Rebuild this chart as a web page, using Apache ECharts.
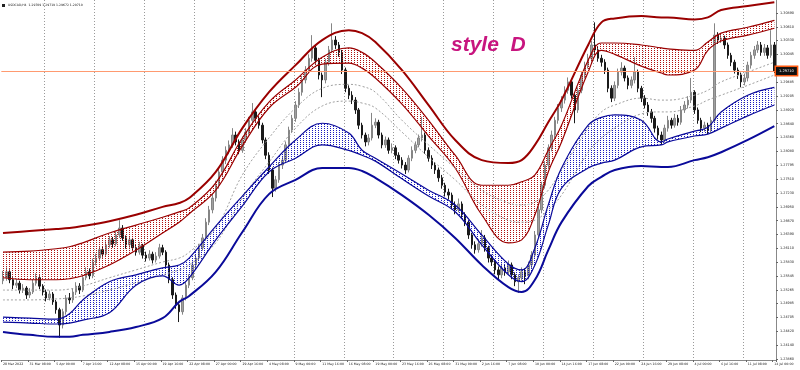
<!DOCTYPE html>
<html><head><meta charset="utf-8">
<script src="https://cdn.jsdelivr.net/npm/echarts@6.0.0/dist/echarts.min.js"></script>
<style>html,body{margin:0;padding:0;background:#fff}#c{width:800px;height:370px}</style>
</head><body><div id="c"></div>
<script>
// ---- candles (each = 2 H4 bars) ----
const opens = [1.2545,1.2551,1.2563,1.2547,1.2536,1.2540,1.2526,1.2530,1.2516,1.2522,
1.2540,1.2551,1.2534,1.2522,1.2510,1.2518,1.2502,1.2486,1.2455,1.2482,
1.2510,1.2506,1.2522,1.2534,1.2526,1.2551,1.2563,1.2555,1.2583,1.2591,
1.2608,1.2599,1.2618,1.2628,1.2620,1.2638,1.2652,1.2632,1.2618,1.2628,
1.2612,1.2603,1.2616,1.2597,1.2591,1.2599,1.2587,1.2595,1.2612,1.2603,
1.2577,1.2547,1.2516,1.2496,1.2482,1.2510,1.2536,1.2551,1.2577,1.2591,
1.2612,1.2632,1.2664,1.2689,1.2713,1.2739,1.2766,1.2790,1.2810,1.2821,
1.2841,1.2827,1.2810,1.2831,1.2847,1.2871,1.2888,1.2875,1.2861,1.2831,
1.2800,1.2770,1.2733,1.2750,1.2780,1.2790,1.2821,1.2851,1.2875,1.2902,
1.2928,1.2953,1.2973,1.2997,1.3018,1.2993,1.2963,1.2953,1.2989,1.3014,
1.3034,1.3024,1.3009,1.2973,1.2936,1.2922,1.2912,1.2892,1.2861,1.2841,
1.2827,1.2835,1.2861,1.2867,1.2841,1.2821,1.2831,1.2810,1.2815,1.2800,
1.2790,1.2780,1.2770,1.2794,1.2810,1.2821,1.2835,1.2841,1.2810,1.2794,
1.2780,1.2770,1.2754,1.2739,1.2725,1.2719,1.2699,1.2689,1.2701,1.2679,
1.2664,1.2638,1.2618,1.2608,1.2620,1.2632,1.2612,1.2591,1.2583,1.2567,
1.2557,1.2571,1.2563,1.2577,1.2557,1.2543,1.2551,1.2563,1.2555,1.2577,
1.2597,1.2638,1.2689,1.2739,1.2780,1.2815,1.2841,1.2871,1.2896,1.2912,
1.2932,1.2949,1.2922,1.2892,1.2932,1.2963,1.2983,1.2997,1.3024,1.3014,
1.2997,1.2989,1.2973,1.2936,1.2916,1.2942,1.2969,1.2977,1.2957,1.2942,
1.2953,1.2969,1.2936,1.2916,1.2902,1.2888,1.2875,1.2855,1.2841,1.2831,
1.2855,1.2871,1.2861,1.2875,1.2867,1.2892,1.2902,1.2912,1.2928,1.2892,
1.2871,1.2855,1.2861,1.2851,1.2871,1.3044,1.3034,1.3038,1.3024,1.3003,
1.2989,1.2973,1.2963,1.2949,1.2957,1.2983,1.3003,1.3014,1.3024,1.3009,
1.3018,1.3003,1.3024];
const closes = [1.2551,1.2563,1.2547,1.2536,1.2540,1.2526,1.2530,1.2516,1.2522,1.2540,
1.2551,1.2534,1.2522,1.2510,1.2518,1.2502,1.2486,1.2455,1.2482,1.2510,
1.2506,1.2522,1.2534,1.2526,1.2551,1.2563,1.2555,1.2583,1.2591,1.2608,
1.2599,1.2618,1.2628,1.2620,1.2638,1.2652,1.2632,1.2618,1.2628,1.2612,
1.2603,1.2616,1.2597,1.2591,1.2599,1.2587,1.2595,1.2612,1.2603,1.2577,
1.2547,1.2516,1.2496,1.2482,1.2510,1.2536,1.2551,1.2577,1.2591,1.2612,
1.2632,1.2664,1.2689,1.2713,1.2739,1.2766,1.2790,1.2810,1.2821,1.2841,
1.2827,1.2810,1.2831,1.2847,1.2871,1.2888,1.2875,1.2861,1.2831,1.2800,
1.2770,1.2733,1.2750,1.2780,1.2790,1.2821,1.2851,1.2875,1.2902,1.2928,
1.2953,1.2973,1.2997,1.3018,1.2993,1.2963,1.2953,1.2989,1.3014,1.3034,
1.3024,1.3009,1.2973,1.2936,1.2922,1.2912,1.2892,1.2861,1.2841,1.2827,
1.2835,1.2861,1.2867,1.2841,1.2821,1.2831,1.2810,1.2815,1.2800,1.2790,
1.2780,1.2770,1.2794,1.2810,1.2821,1.2835,1.2841,1.2810,1.2794,1.2780,
1.2770,1.2754,1.2739,1.2725,1.2719,1.2699,1.2689,1.2701,1.2679,1.2664,
1.2638,1.2618,1.2608,1.2620,1.2632,1.2612,1.2591,1.2583,1.2567,1.2557,
1.2571,1.2563,1.2577,1.2557,1.2543,1.2551,1.2563,1.2555,1.2577,1.2597,
1.2638,1.2689,1.2739,1.2780,1.2815,1.2841,1.2871,1.2896,1.2912,1.2932,
1.2949,1.2922,1.2892,1.2932,1.2963,1.2983,1.2997,1.3024,1.3014,1.2997,
1.2989,1.2973,1.2936,1.2916,1.2942,1.2969,1.2977,1.2957,1.2942,1.2953,
1.2969,1.2936,1.2916,1.2902,1.2888,1.2875,1.2855,1.2841,1.2831,1.2855,
1.2871,1.2861,1.2875,1.2867,1.2892,1.2902,1.2912,1.2928,1.2892,1.2871,
1.2855,1.2861,1.2851,1.2871,1.3044,1.3034,1.3038,1.3024,1.3003,1.2989,
1.2973,1.2963,1.2949,1.2957,1.2983,1.3003,1.3014,1.3024,1.3009,1.3018,
1.3003,1.3024,1.2971];
const highs = [1.2565,1.2572,1.2568,1.2552,1.2549,1.2545,1.2538,1.2534,1.2530,1.2548,
1.2560,1.2556,1.2538,1.2527,1.2525,1.2522,1.2506,1.2490,1.2488,1.2516,
1.2520,1.2530,1.2542,1.2540,1.2558,1.2572,1.2570,1.2590,1.2600,1.2615,
1.2614,1.2625,1.2636,1.2634,1.2645,1.2668,1.2658,1.2637,1.2635,1.2632,
1.2618,1.2624,1.2620,1.2604,1.2607,1.2604,1.2603,1.2620,1.2618,1.2607,
1.2582,1.2552,1.2521,1.2500,1.2516,1.2542,1.2558,1.2584,1.2598,1.2620,
1.2640,1.2672,1.2697,1.2722,1.2748,1.2774,1.2798,1.2818,1.2830,1.2855,
1.2848,1.2832,1.2838,1.2855,1.2878,1.2906,1.2895,1.2880,1.2866,1.2836,
1.2806,1.2775,1.2758,1.2786,1.2798,1.2828,1.2858,1.2882,1.2910,1.2936,
1.2961,1.2981,1.3005,1.3044,1.3024,1.2998,1.2968,1.2996,1.3022,1.3068,
1.3042,1.3030,1.3014,1.2978,1.2942,1.2930,1.2918,1.2896,1.2866,1.2846,
1.2843,1.2886,1.2875,1.2872,1.2846,1.2838,1.2836,1.2824,1.2820,1.2806,
1.2796,1.2786,1.2800,1.2818,1.2828,1.2842,1.2878,1.2846,1.2816,1.2800,
1.2786,1.2775,1.2760,1.2744,1.2732,1.2724,1.2706,1.2712,1.2706,1.2684,
1.2668,1.2642,1.2625,1.2630,1.2648,1.2638,1.2616,1.2598,1.2588,1.2574,
1.2580,1.2578,1.2586,1.2582,1.2562,1.2558,1.2572,1.2570,1.2584,1.2605,
1.2646,1.2696,1.2746,1.2788,1.2822,1.2850,1.2878,1.2904,1.2920,1.2940,
1.2958,1.2954,1.2926,1.2938,1.2970,1.2990,1.3006,1.3032,1.3070,1.3020,
1.3004,1.2995,1.2978,1.2942,1.2950,1.2976,1.2989,1.2982,1.2962,1.2960,
1.2999,1.2974,1.2941,1.2922,1.2908,1.2894,1.2880,1.2860,1.2848,1.2862,
1.2880,1.2876,1.2884,1.2882,1.2900,1.2910,1.2920,1.2957,1.2932,1.2897,
1.2876,1.2868,1.2866,1.2878,1.3068,1.3050,1.3046,1.3043,1.3029,1.3008,
1.2994,1.2978,1.2968,1.2965,1.2990,1.3010,1.3022,1.3032,1.3030,1.3026,
1.3024,1.3054,1.3030];
const lows = [1.2538,1.2545,1.2540,1.2528,1.2530,1.2519,1.2520,1.2508,1.2510,1.2518,
1.2535,1.2528,1.2515,1.2503,1.2505,1.2496,1.2478,1.2429,1.2448,1.2476,
1.2498,1.2500,1.2516,1.2518,1.2522,1.2546,1.2548,1.2550,1.2576,1.2586,
1.2592,1.2595,1.2612,1.2612,1.2615,1.2632,1.2626,1.2610,1.2612,1.2605,
1.2596,1.2598,1.2590,1.2584,1.2586,1.2580,1.2582,1.2590,1.2597,1.2570,
1.2540,1.2508,1.2488,1.2461,1.2476,1.2505,1.2530,1.2546,1.2570,1.2586,
1.2606,1.2626,1.2658,1.2682,1.2706,1.2732,1.2758,1.2782,1.2802,1.2815,
1.2820,1.2802,1.2805,1.2825,1.2842,1.2865,1.2868,1.2854,1.2824,1.2792,
1.2762,1.2715,1.2726,1.2744,1.2772,1.2784,1.2815,1.2845,1.2868,1.2896,
1.2921,1.2946,1.2966,1.2990,1.2986,1.2954,1.2918,1.2946,1.2982,1.3008,
1.3016,1.3000,1.2965,1.2928,1.2914,1.2904,1.2884,1.2853,1.2834,1.2818,
1.2820,1.2830,1.2855,1.2834,1.2814,1.2815,1.2803,1.2804,1.2792,1.2783,
1.2773,1.2762,1.2765,1.2788,1.2804,1.2816,1.2828,1.2803,1.2787,1.2772,
1.2762,1.2746,1.2732,1.2716,1.2710,1.2690,1.2680,1.2684,1.2672,1.2656,
1.2630,1.2610,1.2600,1.2602,1.2614,1.2604,1.2582,1.2575,1.2558,1.2548,
1.2550,1.2555,1.2558,1.2548,1.2534,1.2520,1.2545,1.2538,1.2548,1.2570,
1.2592,1.2632,1.2682,1.2732,1.2772,1.2808,1.2835,1.2864,1.2888,1.2905,
1.2925,1.2915,1.2865,1.2886,1.2926,1.2956,1.2976,1.2990,1.3006,1.2990,
1.2980,1.2965,1.2928,1.2908,1.2910,1.2936,1.2962,1.2950,1.2934,1.2936,
1.2946,1.2928,1.2908,1.2895,1.2880,1.2866,1.2846,1.2832,1.2821,1.2826,
1.2848,1.2854,1.2856,1.2860,1.2862,1.2886,1.2895,1.2906,1.2884,1.2864,
1.2847,1.2848,1.2843,1.2846,1.2866,1.3026,1.3028,1.3016,1.2996,1.2981,
1.2966,1.2955,1.2938,1.2942,1.2950,1.2976,1.2996,1.3008,1.3002,1.3002,
1.2996,1.2998,1.2967];

// ---- envelope lines, read at these candle indices ----
const bandIdx = [0,8,16,20,24,32,40,48,53,56,64,72,80,88,96,104,108,112,120,128,136,144,152,156,160,164,168,176,180,184,192,198,200,208,212,216,224,232];
const outerRed = [1.2642,1.2646,1.2650,1.2652,1.2656,1.2666,1.2679,1.2695,1.2703,1.2713,1.2766,1.2855,1.2928,1.2983,1.3034,1.3054,1.3048,1.3030,1.2973,1.2902,1.2831,1.2790,1.2784,1.2790,1.2821,1.2867,1.2912,1.3024,1.3070,1.3078,1.3083,1.3080,1.3080,1.3076,1.3080,1.3095,1.3103,1.3111];
const redUpper = [1.2603,1.2605,1.2610,1.2614,1.2622,1.2642,1.2658,1.2674,1.2685,1.2693,1.2744,1.2835,1.2908,1.2953,1.2999,1.3018,1.3009,1.2989,1.2936,1.2871,1.2800,1.2739,1.2739,1.2746,1.2760,1.2810,1.2861,1.2993,1.3028,1.3028,1.3024,1.3018,1.3016,1.3013,1.3030,1.3048,1.3060,1.3074];
const redLower = [1.2551,1.2547,1.2547,1.2549,1.2555,1.2577,1.2607,1.2642,1.2664,1.2681,1.2729,1.2819,1.2896,1.2938,1.2985,1.2987,1.2977,1.2957,1.2904,1.2839,1.2774,1.2679,1.2622,1.2628,1.2679,1.2766,1.2827,1.2969,1.3013,1.3005,1.2981,1.2967,1.2963,1.2973,1.3013,1.3032,1.3044,1.3058];
const midUpper = [1.2526,1.2526,1.2526,1.2528,1.2534,1.2551,1.2567,1.2583,1.2591,1.2603,1.2652,1.2760,1.2835,1.2896,1.2936,1.2944,1.2940,1.2928,1.2871,1.2821,1.2774,1.2729,1.2703,1.2699,1.2705,1.2729,1.2770,1.2855,1.2888,1.2902,1.2916,1.2912,1.2912,1.2922,1.2932,1.2949,1.2969,1.2989];
const midLower = [1.2506,1.2506,1.2508,1.2510,1.2514,1.2526,1.2541,1.2557,1.2567,1.2577,1.2622,1.2713,1.2786,1.2855,1.2900,1.2910,1.2906,1.2896,1.2847,1.2796,1.2750,1.2699,1.2668,1.2664,1.2668,1.2689,1.2719,1.2806,1.2835,1.2855,1.2884,1.2888,1.2888,1.2900,1.2912,1.2922,1.2942,1.2963];
const blueUpper = [1.2471,1.2469,1.2467,1.2478,1.2506,1.2543,1.2557,1.2571,1.2577,1.2591,1.2656,1.2717,1.2776,1.2831,1.2865,1.2845,1.2810,1.2794,1.2762,1.2729,1.2699,1.2638,1.2579,1.2567,1.2612,1.2699,1.2774,1.2861,1.2877,1.2882,1.2871,1.2827,1.2833,1.2849,1.2857,1.2888,1.2922,1.2938];
const blueLower = [1.2461,1.2459,1.2457,1.2459,1.2465,1.2480,1.2536,1.2555,1.2536,1.2551,1.2628,1.2697,1.2766,1.2794,1.2821,1.2810,1.2800,1.2788,1.2752,1.2717,1.2685,1.2618,1.2557,1.2543,1.2577,1.2658,1.2733,1.2774,1.2784,1.2790,1.2817,1.2821,1.2827,1.2839,1.2843,1.2855,1.2880,1.2902];
const outerBlue = [1.2441,1.2435,1.2431,1.2431,1.2435,1.2441,1.2451,1.2469,1.2502,1.2514,1.2563,1.2644,1.2721,1.2750,1.2774,1.2774,1.2768,1.2754,1.2719,1.2679,1.2632,1.2577,1.2532,1.2522,1.2547,1.2607,1.2664,1.2737,1.2756,1.2770,1.2778,1.2776,1.2776,1.2790,1.2796,1.2806,1.2831,1.2859];

// ---- axis ticks / texts ----
const xTickLabels = ['28 Mar 2022','31 Mar 08:00','5 Apr 00:00','7 Apr 16:00','12 Apr 08:00','15 Apr 00:00','19 Apr 16:00','22 Apr 08:00','27 Apr 00:00','29 Apr 16:00','4 May 08:00','9 May 00:00','11 May 16:00','16 May 08:00','19 May 00:00','23 May 16:00','26 May 08:00','31 May 00:00','2 Jun 16:00','7 Jun 08:00','10 Jun 00:00','14 Jun 16:00','17 Jun 08:00','22 Jun 00:00','24 Jun 16:00','29 Jun 08:00','4 Jul 00:00','6 Jul 16:00','11 Jul 08:00','14 Jul 00:00'];
const yTicks = [1.23860,1.24140,1.24420,1.24705,1.24985,1.25265,1.25545,1.25830,1.26110,1.26390,1.26670,1.26950,1.27230,1.27510,1.27795,1.28080,1.28360,1.28640,1.28920,1.29205,1.29485,1.30045,1.30330,1.30610,1.30890];
const lastPrice = 1.29710;
const titleText = 'USDCAD,H4  1.29709 1.29719 1.29672 1.29710';
const styleText = 'style  D';

// ---- build ----
const categories = closes.map((_, i) => i);
const candles = closes.map((c, i) => [opens[i], c, lows[i], highs[i]]);
const pairs = arr => arr.map((v, k) => [bandIdx[k], v]);
const diffPairs = (up, lo) => up.map((v, k) => [bandIdx[k], +(v - lo[k]).toFixed(5)]);
function dots(color) {
  const c = document.createElement('canvas'); c.width = 3; c.height = 2;
  const g = c.getContext('2d'); g.fillStyle = color; g.fillRect(0, 0, 1, 1);
  return { image: c, repeat: 'repeat' };
}
const RED = '#9a0000', BLUE = '#0a0a9a';
const FONT = 'DejaVu Sans';
const PRICE_LINE = '#ff9a70';
const line = (name, data, color, width, extra) => Object.assign({
  name, type: 'line', data, smooth: 0.4, symbol: 'none', z: 3,
  lineStyle: { color, width }, silent: true
}, extra || {});

const chart = echarts.init(document.getElementById('c'), null, { renderer: 'canvas' });
chart.setOption({
  animation: false,
  backgroundColor: '#fff',
  grid: { left: 0, right: 24, top: 0, bottom: 10 },
  xAxis: {
    type: 'category', data: categories, boundaryGap: true,
    axisLine: { lineStyle: { color: '#888', width: 1 } },
    axisTick: { show: true, length: 2, interval: i => i % 8 === 0, lineStyle: { color: '#666' } },
    axisLabel: { interval: i => i % 8 === 0, formatter: (v, i) => xTickLabels[i / 8] || '', align: 'left',
      fontSize: 3.2, color: '#222', margin: 3, fontFamily: FONT },
    splitLine: { show: true, interval: i => i >= 13 && (i - 13) % 15 === 0,
      lineStyle: { color: '#9a9a9a', type: [1, 2], width: 1 } }
  },
  yAxis: {
    type: 'value', position: 'right', min: 1.23839, max: 1.31154, scale: true,
    axisLine: { show: true, lineStyle: { color: '#888' } },
    axisTick: { show: true, length: 2, customValues: yTicks, lineStyle: { color: '#666' } },
    axisLabel: { customValues: yTicks, formatter: v => v.toFixed(5), fontSize: 3.4, color: '#222', margin: 4, fontFamily: FONT },
    splitLine: { show: false }
  },
  series: [
    { type: 'candlestick', data: candles, barWidth: 2, z: 2, silent: true,
      itemStyle: { color: '#a0a0a0', color0: '#1a1a1a', borderColor: '#858585', borderColor0: '#1a1a1a', borderWidth: 1 } },
    line('outerRed', pairs(outerRed), RED, 2),
    line('redLower', pairs(redLower), RED, 1.2, { stack: 'red' }),
    line('redUpper', diffPairs(redUpper, redLower), RED, 1.2, { stack: 'red', areaStyle: { color: dots('#b01010'), opacity: 1 } }),
    line('midUpper', pairs(midUpper), '#a0a0a0', 1, { lineStyle: { color: '#a0a0a0', width: 1, type: [2, 2] },
      markLine: { symbol: 'none', silent: true, animation: false, precision: 5,
        data: [{ yAxis: lastPrice, lineStyle: { color: PRICE_LINE, type: 'solid', width: 1, opacity: 1 } }],
        lineStyle: { color: PRICE_LINE, type: 'solid', width: 1, opacity: 1 },
        label: { position: 'end', formatter: lastPrice.toFixed(5), color: '#fff', backgroundColor: '#111',
          borderColor: '#ff5a10', borderWidth: 1.5, fontSize: 3.6, padding: [2, 3], distance: 0, fontFamily: FONT } } }),
    line('midLower', pairs(midLower), '#a0a0a0', 1, { lineStyle: { color: '#a0a0a0', width: 1, type: [2, 2] } }),
    line('blueLower', pairs(blueLower), BLUE, 1.2, { stack: 'blue' }),
    line('blueUpper', diffPairs(blueUpper, blueLower), BLUE, 1.2, { stack: 'blue', areaStyle: { color: dots('#1a1ac0'), opacity: 1 } }),
    line('outerBlue', pairs(outerBlue), BLUE, 2)
  ],
  graphic: [
    { type: 'rect', left: 2, top: 4, shape: { width: 3, height: 3 }, style: { fill: '#222' } },
    { type: 'text', left: 8, top: 3.5, style: { text: titleText, fontSize: 3.1, fill: '#222', fontFamily: FONT } },
    { type: 'text', left: 451, top: 35, style: { text: styleText, font: 'italic bold 21px "Liberation Sans"', fill: '#c8157f' } }
  ]
});
</script></body></html>
